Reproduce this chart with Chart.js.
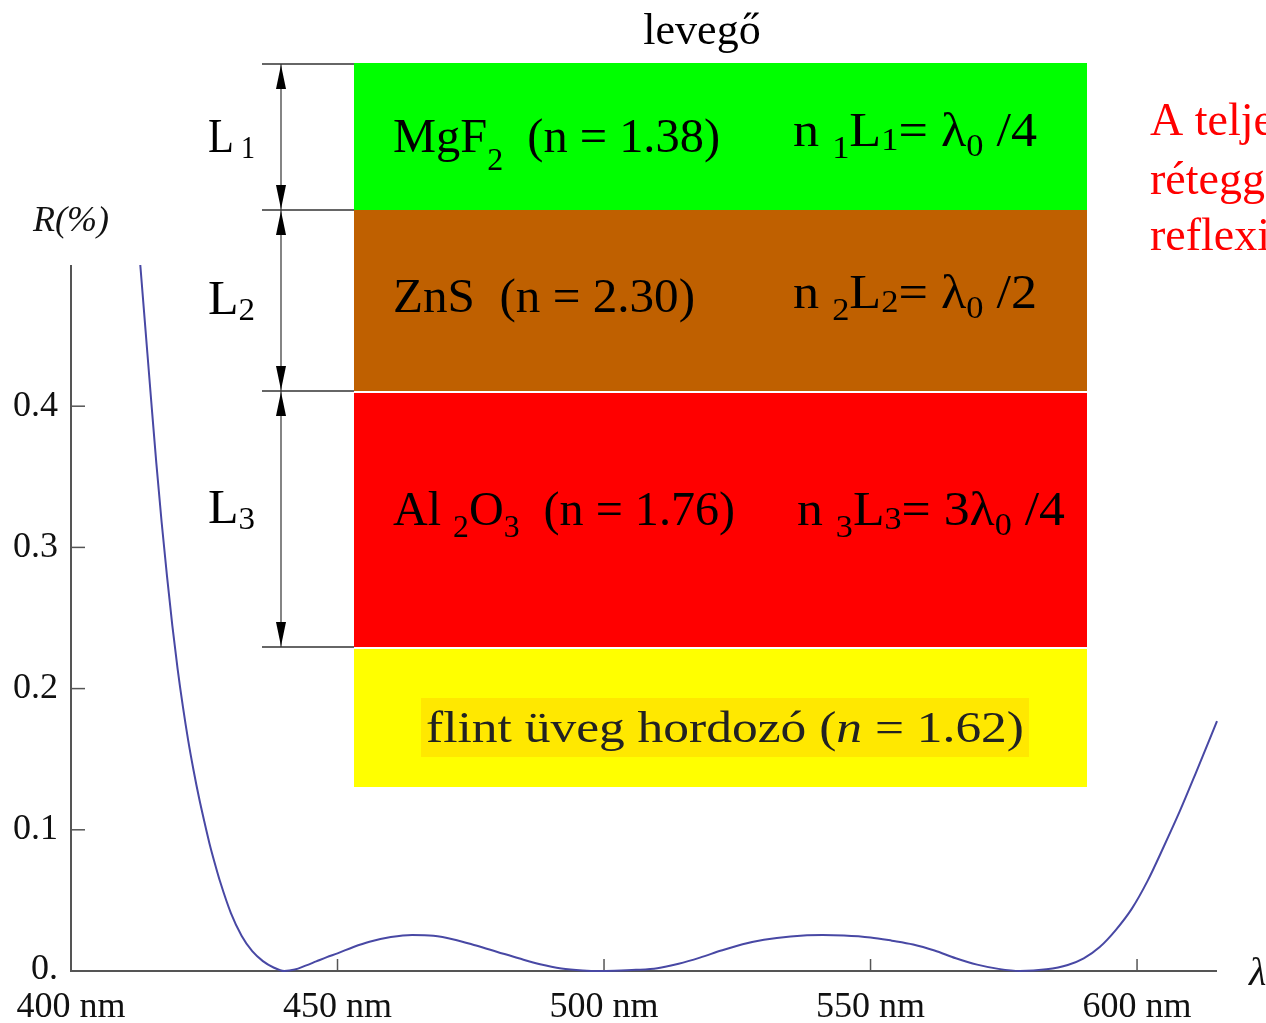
<!DOCTYPE html>
<html>
<head>
<meta charset="utf-8">
<script src="https://cdn.jsdelivr.net/npm/chart.js@4/dist/chart.umd.min.js"></script>
<style>
html,body{margin:0;padding:0;background:#fff;overflow:hidden;}
#wrap{position:relative;width:1266px;height:1023px;}
</style>
</head>
<body>
<div id="wrap"><canvas id="c" width="1266" height="1023"></canvas></div>
<script>
// reflectance of the 3-layer coating
const wavelengths = [413,414,415,416,417,418,419,420,421,422,423,424,425,426,427,428,430,432,434,436,438,440,
  442,444,446,448,450,453,456,460,464,468,472,476,480,484,488,492,496,499,
  502,506,510,514,518,522,526,530,535,541,545,550,554,558,562,566,570,574,578,
  583,587,590,593,596,599,602,605,608,611,615];
const reflectance = [0.500,0.453,0.406,0.360,0.318,0.280,0.245,0.214,0.187,0.163,0.142,0.123,0.106,0.090,0.076,0.063,0.041,0.025,0.014,0.007,0.0025,0.000,
  0.001,0.0038,0.0068,0.0098,0.0125,0.017,0.0207,0.024,0.0255,0.025,0.0222,0.018,0.0135,0.009,0.0048,0.0018,0.0004,0.0,
  0.0002,0.0008,0.002,0.0052,0.0095,0.0145,0.019,0.0222,0.0245,0.0255,0.0252,0.0238,0.0215,0.0188,0.0145,0.009,0.0045,0.0015,0.0,
  0.0012,0.0043,0.009,0.017,0.029,0.044,0.064,0.088,0.113,0.140,0.177];

const xTicks = [400,450,500,550,600];
const xTickLabels = ['400 nm','450 nm','500 nm','550 nm','600 nm'];
const yTicks = [0,0.1,0.2,0.3,0.4];
const yTickLabels = ['0.','0.1','0.2','0.3','0.4'];

const SERIF = '"Liberation Serif", "Times New Roman", serif';

// draw text made of pieces (some subscripts), optionally stretched to width w
function rich(ctx, x, y, parts, size, w){
  function fontOf(p){
    let s = p.sub ? size*0.66 : size;
    return (p.it ? 'italic ' : '') + s + 'px ' + SERIF;
  }
  let total = 0;
  parts.forEach(function(p){ ctx.font = fontOf(p); total += ctx.measureText(p.t).width; });
  let k = w ? w/total : 1;
  ctx.save();
  ctx.translate(x, y);
  ctx.scale(k, 1);
  let cx = 0;
  parts.forEach(function(p){
    ctx.font = fontOf(p);
    ctx.fillText(p.t, cx, p.sub ? (p.dy || size*0.3) : 0);
    cx += ctx.measureText(p.t).width;
  });
  ctx.restore();
}

function arrowHead(ctx, x, y, dir){
  ctx.beginPath();
  ctx.moveTo(x, y);
  ctx.lineTo(x-5, y + dir*24);
  ctx.lineTo(x+5, y + dir*24);
  ctx.closePath();
  ctx.fill();
}

const axesPlugin = {
  id:'axesPlugin',
  beforeDatasetsDraw(chart){
    const ctx = chart.ctx;
    const xs = chart.scales.x, ys = chart.scales.y;
    const x0 = xs.getPixelForValue(400), x1 = xs.getPixelForValue(615);
    const y0 = ys.getPixelForValue(0), y1 = ys.getPixelForValue(0.5);
    ctx.save();
    ctx.strokeStyle = '#555';
    ctx.lineWidth = 2;
    ctx.beginPath();
    ctx.moveTo(x0, y1); ctx.lineTo(x0, y0); ctx.lineTo(x1, y0);
    ctx.stroke();
    ctx.lineWidth = 1.5;
    ctx.fillStyle = '#111';
    ctx.font = '36px ' + SERIF;
    // y ticks
    yTicks.forEach(function(v, i){
      let py = ys.getPixelForValue(v);
      if(v > 0){
        ctx.beginPath(); ctx.moveTo(x0, py); ctx.lineTo(x0+14, py); ctx.stroke();
      }
      ctx.textAlign = 'right'; ctx.textBaseline = 'middle';
      ctx.fillText(yTickLabels[i], 58, v > 0 ? py : py - 1);
    });
    // x ticks
    xTicks.forEach(function(v, i){
      let px = xs.getPixelForValue(v);
      if(v > 400){
        ctx.beginPath(); ctx.moveTo(px, y0); ctx.lineTo(px, y0-12); ctx.stroke();
      }
      ctx.textAlign = 'center'; ctx.textBaseline = 'alphabetic';
      ctx.fillText(xTickLabels[i], px, 1017);
    });
    // axis titles
    ctx.textAlign = 'left';
    ctx.font = 'italic 36px ' + SERIF;
    ctx.fillText('R(%)', 33, 231);
    ctx.font = 'italic 40px ' + SERIF;
    ctx.fillText('λ', 1249, 985);
    ctx.restore();
  },
  afterDraw(chart){
    const ctx = chart.ctx;
    ctx.save();
    // layer stack
    ctx.fillStyle = '#00ff00'; ctx.fillRect(354, 63, 733, 147);
    ctx.fillStyle = '#bf6000'; ctx.fillRect(354, 210, 733, 181);
    ctx.fillStyle = '#ff0000'; ctx.fillRect(354, 393, 733, 254);
    ctx.fillStyle = '#ffff00'; ctx.fillRect(354, 649, 733, 138);
    ctx.fillStyle = '#ffe800'; ctx.fillRect(421, 698, 608, 59);

    // boundary lines and L arrows
    ctx.strokeStyle = '#333'; ctx.lineWidth = 1.5;
    [64, 210, 391, 647].forEach(function(y){
      ctx.beginPath(); ctx.moveTo(262, y); ctx.lineTo(354, y); ctx.stroke();
    });
    ctx.lineWidth = 1.2;
    ctx.beginPath(); ctx.moveTo(281, 64); ctx.lineTo(281, 647); ctx.stroke();
    ctx.fillStyle = '#000';
    [[64,210],[210,391],[391,647]].forEach(function(s){
      arrowHead(ctx, 281, s[0]+1, 1);
      arrowHead(ctx, 281, s[1]-1, -1);
    });

    ctx.fillStyle = '#000';
    ctx.textBaseline = 'alphabetic';
    ctx.font = '44px ' + SERIF;
    ctx.textAlign = 'center';
    ctx.fillText('levegő', 702, 44);
    ctx.textAlign = 'left';

    rich(ctx, 208, 152, [{t:'L'},{t:' 1',sub:1,dy:6}], 48, 47);
    rich(ctx, 208, 314, [{t:'L'},{t:'2',sub:1,dy:6}], 48, 47);
    rich(ctx, 208, 523, [{t:'L'},{t:'3',sub:1,dy:6}], 48, 47);

    rich(ctx, 393, 152, [{t:'MgF'},{t:'2',sub:1,dy:18},{t:'  (n = 1.38)'}], 48, 327);
    rich(ctx, 793, 146, [{t:'n '},{t:'1',sub:1,dy:12},{t:'L'},{t:'1',sub:1,dy:4},{t:'= λ'},{t:'0',sub:1,dy:10},{t:' /4'}], 48, 244);
    rich(ctx, 393, 312, [{t:'ZnS  (n = 2.30)'}], 48, 302);
    rich(ctx, 793, 308, [{t:'n '},{t:'2',sub:1,dy:12},{t:'L'},{t:'2',sub:1,dy:4},{t:'= λ'},{t:'0',sub:1,dy:10},{t:' /2'}], 48, 244);
    rich(ctx, 393, 525, [{t:'Al '},{t:'2',sub:1,dy:12},{t:'O'},{t:'3',sub:1,dy:12},{t:'  (n = 1.76)'}], 48, 342);
    rich(ctx, 797, 525, [{t:'n '},{t:'3',sub:1,dy:12},{t:'L'},{t:'3',sub:1,dy:4},{t:'= 3λ'},{t:'0',sub:1,dy:10},{t:' /4'}], 48, 268);

    ctx.fillStyle = '#222';
    rich(ctx, 426, 742, [{t:'flint üveg hordozó ('},{t:'n',it:1},{t:' = 1.62)'}], 44, 598);

    // red side note, cut by the page edge
    ctx.fillStyle = '#ff0000';
    ctx.font = '46px ' + SERIF;
    ctx.fillText('A teljes', 1150, 135);
    ctx.fillText('réteggel', 1150, 194);
    ctx.fillText('reflexió', 1150, 250);
    ctx.restore();
  }
};

const points = wavelengths.map(function(w, i){ return {x:w, y:reflectance[i]}; });

new Chart(document.getElementById('c').getContext('2d'), {
  type:'line',
  data:{
    datasets:[{
      data:points,
      borderColor:'#4848a4',
      borderWidth:2,
      pointRadius:0,
      fill:false,
      cubicInterpolationMode:'monotone',
      clip:false
    }]
  },
  options:{
    responsive:false,
    animation:false,
    layout:{padding:{left:71, right:49, top:265, bottom:52}},
    plugins:{legend:{display:false}, tooltip:{enabled:false}},
    scales:{
      x:{type:'linear', min:400, max:615, display:false},
      y:{type:'linear', min:0, max:0.5, display:false}
    }
  },
  plugins:[axesPlugin]
});
</script>
</body>
</html>
